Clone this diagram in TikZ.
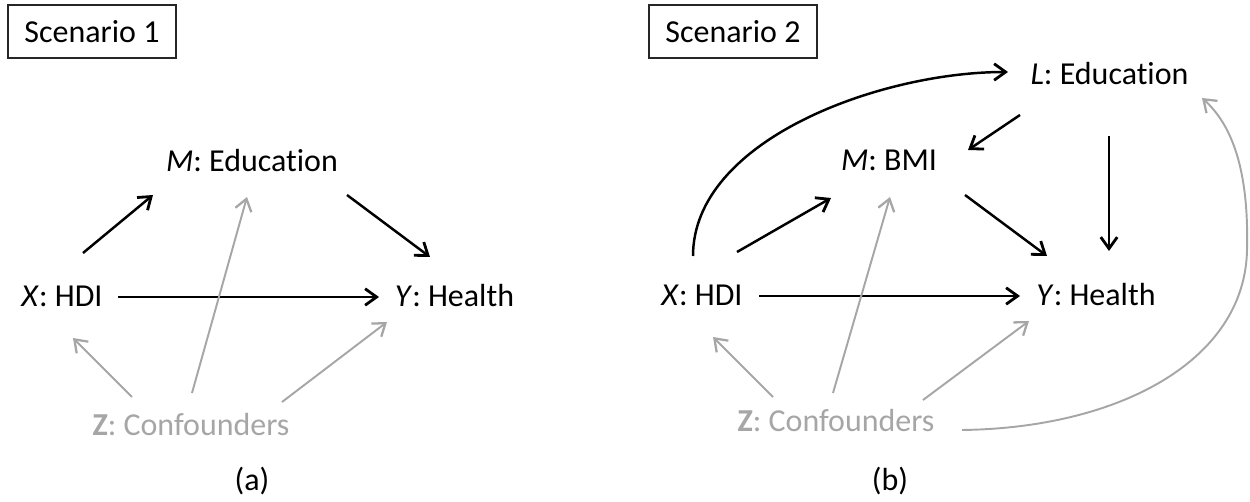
\documentclass[tikz,border=0pt]{standalone}
\usepackage{fontspec}
\setmainfont{Carlito}[Ligatures={NoCommon,NoContextual,NoRare},RawFeature={-calt}]
\usetikzlibrary{arrows.meta}
\definecolor{zgray}{RGB}{166,166,166}
\begin{document}
\begin{tikzpicture}[x=0.02cm,y=-0.02cm,
  lbl/.style={inner sep=0pt, anchor=base, font=\fontsize{18.2}{22}\selectfont},
  zlbl/.style={lbl, text=zgray},
  sbox/.style={draw=black!85, line width=0.8pt, minimum width=3.36cm, minimum height=1.06cm, inner sep=0pt, font=\fontsize{18.2}{22}\selectfont},
  arr/.style={line width=1.4pt, -{Straight Barb[length=2.3mm,width=3.3mm,line width=1.6pt]}},
  garr/.style={zgray, line width=1.1pt, -{Straight Barb[length=2.3mm,width=3.3mm,line width=1.3pt]}}
]
\useasboundingbox (0,0) rectangle (1250,502);

% ---------- Scenario 1 ----------
\node[sbox] (s1) at (92,31.5) {Scenario 1};
\node[lbl] (M1) at (252,172) {\textit{M}: Education};
\node[lbl] (X1) at (62,307) {\textit{X}: HDI};
\node[lbl] (Y1) at (454.5,307) {\textit{Y}: Health};
\node[zlbl] (Z1) at (191,436) {\textbf{Z}: Confounders};
\node[lbl] (a) at (252,491) {(a)};

\coordinate (x1m) at (83,253);   \coordinate (m1x) at (153,195);
\coordinate (x1y) at (118,297);  \coordinate (y1x) at (379,297);
\coordinate (m1y) at (347,195);  \coordinate (y1m) at (430,257);
\coordinate (z1x) at (132,397);  \coordinate (x1z) at (73,338);
\coordinate (z1m) at (192,393);  \coordinate (m1z) at (247,197);
\coordinate (z1y) at (282,402);  \coordinate (y1z) at (387,322);

\draw[arr] (x1m) -- (m1x);
\draw[arr] (x1y) -- (y1x);
\draw[arr] (m1y) -- (y1m);
\draw[garr] (z1x) -- (x1z);
\draw[garr] (z1m) -- (m1z);
\draw[garr] (z1y) -- (y1z);

% ---------- Scenario 2 ----------
\node[sbox] (s2) at (733,31.5) {Scenario 2};
\node[lbl] (L2) at (1109.5,85) {\textit{L}: Education};
\node[lbl] (M2) at (889,171) {\textit{M}: BMI};
\node[lbl] (X2) at (702,306) {\textit{X}: HDI};
\node[lbl] (Y2) at (1096,306) {\textit{Y}: Health};
\node[zlbl] (Z2) at (836,432) {\textbf{Z}: Confounders};
\node[lbl] (b) at (890,491) {(b)};

\coordinate (x2l) at (693,256);  \coordinate (l2x) at (1008,72);
\coordinate (x2m) at (737,252);  \coordinate (m2x) at (831,198);
\coordinate (x2y) at (759,296);  \coordinate (y2x) at (1020,296);
\coordinate (m2y) at (965,195);  \coordinate (y2m) at (1047,256);
\coordinate (l2m) at (1020,115); \coordinate (m2l) at (968,150);
\coordinate (l2y) at (1109,136); \coordinate (y2l) at (1109,251);
\coordinate (z2x) at (773,397);  \coordinate (x2z) at (713,337);
\coordinate (z2m) at (833,393);  \coordinate (m2z) at (890,197);
\coordinate (z2y) at (923,400);  \coordinate (y2z) at (1029,321);
\coordinate (z2l) at (962,430);  \coordinate (l2z) at (1202,98);

\draw[arr] (x2l) .. controls (693,140) and (880,72) .. (l2x);
\draw[arr] (x2m) -- (m2x);
\draw[arr] (x2y) -- (y2x);
\draw[arr] (m2y) -- (y2m);
\draw[arr] (l2m) -- (m2l);
\draw[arr] (l2y) -- (y2l);
\draw[garr] (z2x) -- (x2z);
\draw[garr] (z2m) -- (m2z);
\draw[garr] (z2y) -- (y2z);
\draw[garr] (z2l) .. controls (1120,428) and (1245,360) .. (1247,250)
                  .. controls (1249,170) and (1232,125) .. (l2z);
\end{tikzpicture}
\end{document}
